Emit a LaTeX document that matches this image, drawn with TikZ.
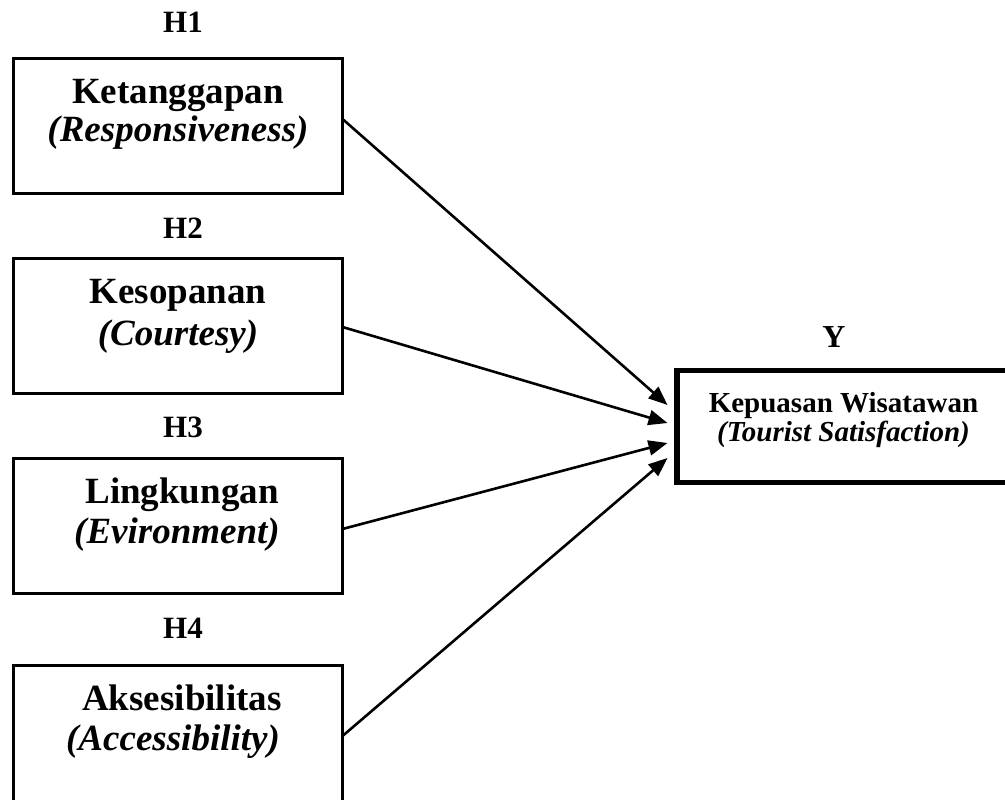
\documentclass[tikz,border=0pt]{standalone}
\usepackage{fontspec}
\setmainfont{Liberation Serif}
\usetikzlibrary{arrows.meta}
\tikzset{
  hbox/.style={draw, line width=3pt, outer sep=0pt, minimum width=329pt, minimum height=135pt, inner sep=0pt},
  ybox/.style={draw, line width=5.5pt, outer sep=0pt, minimum width=333pt, minimum height=112pt, inner sep=0pt},
  btxt/.style={anchor=base, inner sep=0pt, font=\fontsize{37}{40}\selectfont\bfseries},
  itxt/.style={anchor=base, inner sep=0pt, font=\fontsize{37}{40}\selectfont\bfseries\itshape},
  hlab/.style={anchor=base, inner sep=0pt, font=\fontsize{31}{34}\selectfont\bfseries},
  ytxt/.style={anchor=base, inner sep=0pt, font=\fontsize{29}{32}\selectfont\bfseries},
  yitxt/.style={anchor=base, inner sep=0pt, font=\fontsize{29}{32}\selectfont\bfseries\itshape},
  arr/.style={line width=2.6pt, -{Triangle[length=19pt,width=15pt]}}
}
\begin{document}
\begin{tikzpicture}[x=1pt,y=-1pt]
\useasboundingbox (0,0) rectangle (1005,800);
\clip (0,0) rectangle (1005,800);
% H labels
\node[hlab] (h1) at (183,33) {H1};
\node[hlab] (h2) at (183,238) {H2};
\node[hlab] (h3) at (183,437) {H3};
\node[hlab] (h4) at (183,638) {H4};
% boxes
\node[hbox] (b1) at (178,126) {};
\node[hbox] (b2) at (178,326) {};
\node[hbox] (b3) at (178,526) {};
\node[hbox, minimum height=140pt] (b4) at (178,735) {};
% box texts
\node[btxt] (t1a) at (178,103) {Ketanggapan};
\node[itxt] (t1b) at (178,142) {(Responsiveness)};
\node[btxt] (t2a) at (178,303) {Kesopanan};
\node[itxt] (t2b) at (178,345) {(Courtesy)};
\node[btxt] (t3a) at (182,503) {Lingkungan};
\node[itxt] (t3b) at (177,543) {(Evironment)};
\node[btxt] (t4a) at (182,710) {Aksesibilitas};
\node[itxt] (t4b) at (173,750) {(Accessibility)};
% Y
\node[hlab, font=\fontsize{32}{34}\selectfont\bfseries] (yl) at (834,347) {Y};
\node[ybox] (Y) at (843.5,426.5) {};
\node[ytxt] (ya) at (843.5,412) {Kepuasan Wisatawan};
\node[yitxt] (yb) at (843.5,441) {(Tourist Satisfaction)};
% arrows
\draw[arr] ([yshift=7pt]b1.east) -- ([xshift=-9.5pt,yshift=21.5pt]Y.west);
\draw[arr] ([yshift=-1pt]b2.east) -- ([xshift=-9.5pt,yshift=3.5pt]Y.west);
\draw[arr] ([yshift=-3pt]b3.east) -- ([xshift=-9.5pt,yshift=-16.5pt]Y.west);
\draw[arr] ([yshift=-1pt]b4.east) -- ([xshift=-9.5pt,yshift=-31.5pt]Y.west);
\end{tikzpicture}
\end{document}
